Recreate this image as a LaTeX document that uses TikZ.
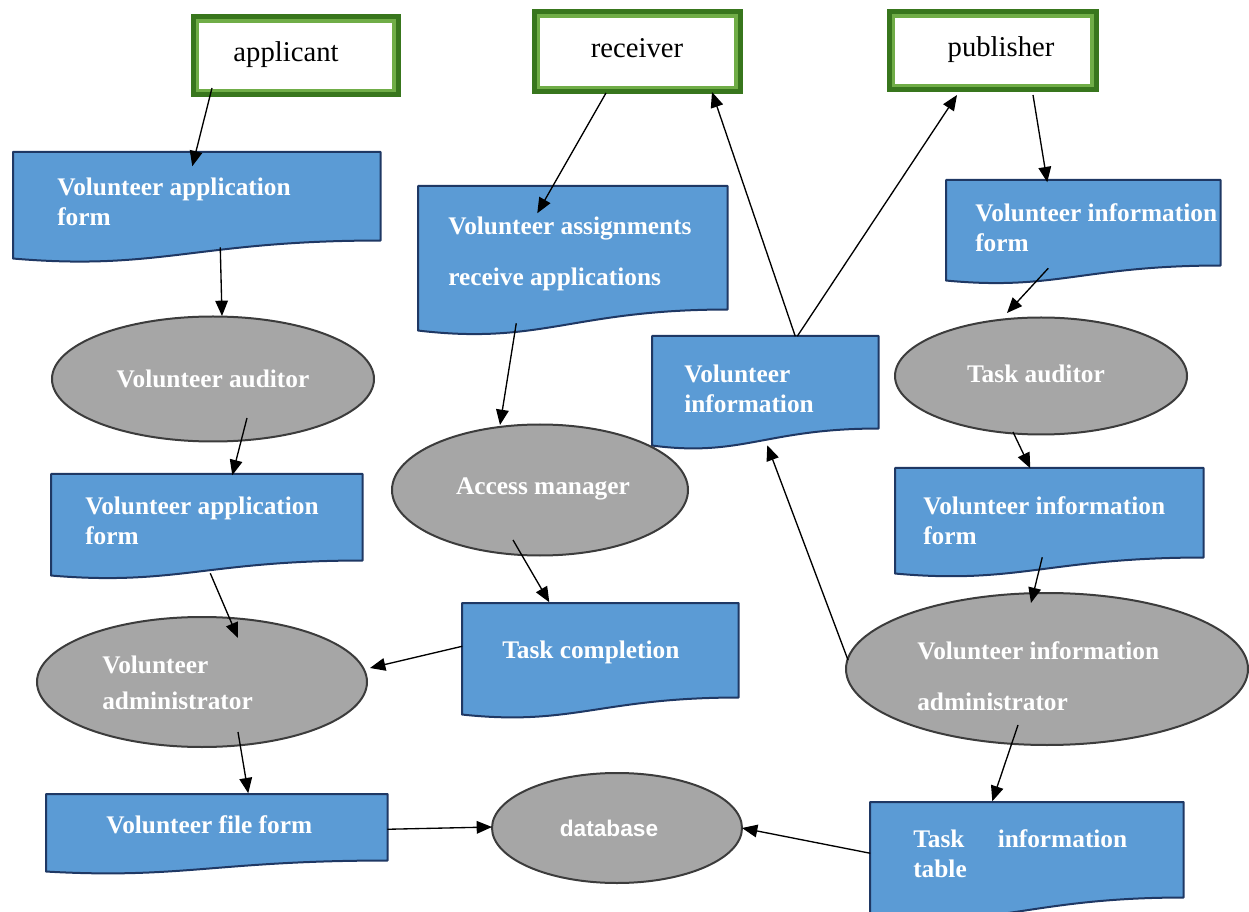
\documentclass[tikz,border=0pt]{standalone}
\usepackage{fontspec}
\setmainfont{Liberation Serif}
\newfontfamily\dbfont{Liberation Sans}
\usetikzlibrary{arrows.meta,calc,shapes.geometric}
\definecolor{docblue}{RGB}{91,155,213}
\definecolor{docedge}{RGB}{31,56,100}
\definecolor{ellfill}{RGB}{166,166,166}
\definecolor{elledge}{RGB}{60,60,60}
\definecolor{dkgreen}{RGB}{56,118,29}
\definecolor{ltgreen}{RGB}{112,173,71}
\newcommand\docoutline[2]{%
  \draw[docshape] (#1.north west) -- (#1.north east) -- ($(#1.south east)+(0,-#2)$)
    .. controls ($(#1.south west)!0.5!(#1.south east)+(0,-#2)$) and ($(#1.south west)!0.4!(#1.south east)+(0,0.7*#2)$)
    .. (#1.south west) -- cycle;}
\begin{document}
\begin{tikzpicture}[x=0.75pt,y=-0.75pt,
  sz/.style n args={2}{minimum width=#1*0.75pt, minimum height=#2*0.75pt},
  topbox/.style={rectangle, draw=dkgreen, line width=3.75pt, fill=white, inner sep=0,
    path picture={\draw[ltgreen,line width=9pt] (path picture bounding box.north west) rectangle (path picture bounding box.south east);}},
  docbox/.style={rectangle, inner sep=0, anchor=north west},
  docshape/.style={fill=docblue, draw=docedge, line width=1.5pt, line join=round},
  ell/.style={ellipse, fill=ellfill, draw=elledge, line width=1.5pt, inner sep=0},
  lbl/.style={text=white, font=\fontsize{19}{22.5}\selectfont\bfseries, align=left, anchor=west, inner sep=0},
  toplbl/.style={font=\fontsize{21.5}{26}\selectfont, inner sep=0},
  arr/.style={-{Triangle[length=11.5pt,width=9.5pt]}, line width=1pt, black}
]
\useasboundingbox (0,0) rectangle (1249,912);
% top boxes
\node[topbox, sz={205}{78}] (app) at (295.5,56) {};
\node[topbox, sz={206}{80}] (rec) at (637,52) {};
\node[topbox, sz={207}{78}] (pub) at (992.5,51) {};
\node[toplbl] (appt) at (286,55) {applicant};
\node[toplbl] (rect) at (637,48) {receiver};
\node[toplbl] (pubt) at (1001,50) {publisher};
% document boxes
\node[docbox, sz={367}{106}] (d1) at (13,152) {};
\node[docbox, sz={309}{144}] (d2) at (418,186) {};
\node[docbox, sz={274}{100}] (d3) at (946,180) {};
\node[docbox, sz={226}{109}] (d4) at (652,336) {};
\node[docbox, sz={311}{101}] (d5) at (51,474) {};
\node[docbox, sz={276}{111}] (d6) at (462,603) {};
\node[docbox, sz={308}{105}] (d7) at (895,468) {};
\node[docbox, sz={341}{77}] (d8) at (46,794) {};
\node[docbox, sz={313}{114}] (d9) at (870,802) {};
\docoutline{d1}{18}
\docoutline{d2}{21}
\docoutline{d3}{15}
\docoutline{d4}{17}
\docoutline{d5}{15}
\docoutline{d6}{17}
\docoutline{d7}{16}
\docoutline{d8}{11}
\docoutline{d9}{19}
\node[lbl] (d1t) at (57,202) {Volunteer application\\form};
\node[lbl, font=\fontsize{19}{38}\selectfont\bfseries] (d2t) at (448,254) {Volunteer assignments\\receive applications};
\node[lbl] (d3t) at (975,228) {Volunteer information\\form};
\node[lbl] (d4t) at (684,389) {Volunteer\\information};
\node[lbl] (d5t) at (85,521) {Volunteer application\\form};
\node[lbl] (d6t) at (502,652) {Task completion};
\node[lbl] (d7t) at (923,521) {Volunteer information\\form};
\node[lbl] (d8t) at (106,825) {Volunteer file form};
\node[lbl] (d9t) at (913,854) {Task\hspace{25pt}information\\table};
% ellipses
\node[ell, sz={322}{125}] (e1) at (213,379) {};
\node[ell, sz={296}{131}] (e2) at (540,490) {};
\node[ell, sz={292}{117}] (e3) at (1041,376) {};
\node[ell, sz={330}{130}] (e4) at (202,682) {};
\node[ell, sz={402}{152}] (e5) at (1047,669) {};
\node[ell, sz={250}{110}] (e6) at (617,828) {};
\node[lbl, anchor=center] (e1t) at (213,379) {Volunteer auditor};
\node[lbl, anchor=center] (e2t) at (543,489) {Access manager};
\node[lbl, anchor=center] (e3t) at (1036,374) {Task auditor};
\node[lbl, font=\fontsize{19}{27}\selectfont\bfseries] (e4t) at (102,683) {Volunteer\\administrator};
\node[lbl, font=\fontsize{19}{38}\selectfont\bfseries] (e5t) at (917,676) {Volunteer information\\administrator};
\node[text=white, font=\dbfont\fontsize{17}{20}\selectfont\bfseries, inner sep=0] (e6t) at (609,828) {database};
% arrows
\draw[arr] ($(app.center)+(-83.5,32)$) -- ($(d1.center)+(-4.5,-39)$);
\draw[arr] ($(d1.center)+(23.5,42)$) -- ($(e1.center)+(9,-63)$);
\draw[arr] ($(e1.center)+(34,39)$) -- ($(d5.center)+(25.5,-49.5)$);
\draw[arr] ($(d5.center)+(3.5,48.5)$) -- ($(e4.center)+(36,-44)$);
\draw[arr] ($(e4.center)+(36,50)$) -- ($(d8.center)+(31.5,-39.5)$);
\draw[arr] ($(d8.center)+(170.5,-3.5)$) -- ($(e6.center)+(-125,-1)$);
\draw[arr] ($(d9.center)+(-156.5,-6)$) -- ($(e6.center)+(125,0)$);
\draw[arr] ($(rec.center)+(-31,41)$) -- ($(d2.center)+(-35.5,-45)$);
\draw[arr] ($(d2.center)+(-56.5,65)$) -- ($(e2.center)+(-40,-65)$);
\draw[arr] ($(e2.center)+(-27,50)$) -- ($(d6.center)+(-51,-56.5)$);
\draw[arr] ($(d6.center)+(-138,-12.5)$) -- ($(e4.center)+(168,-14)$);
\draw[arr] ($(pub.center)+(40.5,44)$) -- ($(d3.center)+(-36,-48)$);
\draw[arr] ($(d3.center)+(-35,38)$) -- ($(e3.center)+(-34,-63)$);
\draw[arr] ($(e3.center)+(-28,56)$) -- ($(d7.center)+(-19,-52.5)$);
\draw[arr] ($(d7.center)+(-7,36.5)$) -- ($(e5.center)+(-16,-66)$);
\draw[arr] ($(e5.center)+(-29,56)$) -- ($(d9.center)+(-34.5,-58)$);
\draw[arr] ($(e5.center)+(-199,-9)$) -- ($(d4.center)+(2,54.5)$);
\draw[arr] ($(d4.center)+(30,-54.5)$) -- ($(rec.center)+(75,40)$);
\draw[arr] ($(d4.center)+(32,-54.5)$) -- ($(pub.center)+(-35.5,44)$);
\end{tikzpicture}
\end{document}
